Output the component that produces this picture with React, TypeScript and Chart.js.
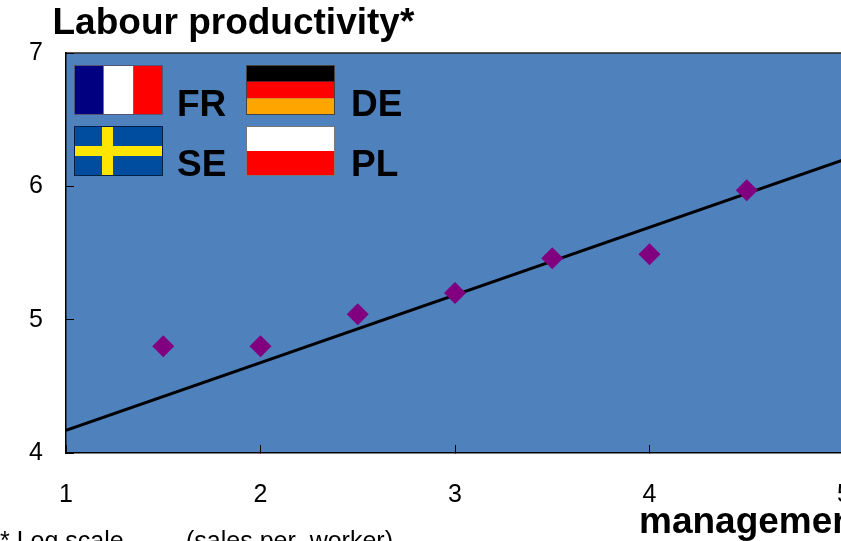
import React, { useEffect, useRef } from "react";
import { Chart, registerables } from "chart.js";

Chart.register(...registerables);

const FONT = '"Liberation Sans", Arial, sans-serif';

const scoreX = [1.5, 2, 2.5, 3, 3.5, 4, 4.5];
const productivityY = [4.8, 4.8, 5.04, 5.2, 5.46, 5.49, 5.97];
const trendX = [1, 5];
const trendY = [4.17, 6.2];
const xTicks = [1, 2, 3, 4, 5];
const yTicks = [4, 5, 6, 7];
const titleText = "Labour productivity*";
const xAxisText = "management";
const footnoteText = "* Log scale";
const unitText = "(sales per  worker)";

const flagDrawing = {
  id: "flagDrawing",
  beforeDraw(chart: any) {
    const { ctx, chartArea: a } = chart;
    ctx.save();
    ctx.fillStyle = "#4f81bd";
    ctx.fillRect(a.left, a.top, a.right - a.left, a.bottom - a.top);
    ctx.strokeStyle = "#222222";
    ctx.lineWidth = 1.5;
    ctx.beginPath();
    ctx.moveTo(a.left, a.top);
    ctx.lineTo(a.right, a.top);
    ctx.stroke();
    ctx.restore();
  },
  afterDraw(chart: any) {
    const { ctx } = chart;
    ctx.save();
    const bands = (x: number, y: number, cols: string[], vertical: boolean, edge: string, h = 50, shares?: number[]) => {
      const w = 89;
      const s = shares ?? cols.map(() => 1 / cols.length);
      let p = 0;
      cols.forEach((c, i) => {
        ctx.fillStyle = c;
        if (vertical) ctx.fillRect(x + p * w, y, s[i] * w, h);
        else ctx.fillRect(x, y + p * h, w, s[i] * h);
        p += s[i];
      });
      ctx.strokeStyle = edge;
      ctx.lineWidth = 1;
      ctx.strokeRect(x + 0.5, y + 0.5, w - 1, h - 1);
    };
    bands(74, 65, ["#000080", "#ffffff", "#ff0000"], true, "#555577");
    bands(246, 65, ["#000000", "#ff0000", "#ffa500"], false, "#444444");
    bands(74, 126, ["#004da0"], false, "#00204a");
    ctx.fillStyle = "#ffe500";
    ctx.fillRect(102, 127, 11, 48);
    ctx.fillRect(75, 146, 87, 10);
    bands(246, 126, ["#ffffff", "#ff0000"], false, "#777777");

    ctx.fillStyle = "#000000";
    ctx.textBaseline = "alphabetic";
    ctx.textAlign = "left";
    ctx.font = `bold 37px ${FONT}`;
    ctx.fillText("FR", 177, 116);
    ctx.fillText("DE", 351, 116);
    ctx.fillText("SE", 177, 176);
    ctx.fillText("PL", 351, 176);
    ctx.fillText(titleText, 52.5, 34);
    ctx.fillText(xAxisText, 639, 533);
    ctx.font = `25px ${FONT}`;
    ctx.fillText(footnoteText, 0, 549);
    ctx.fillText(unitText, 186, 549);
    ctx.restore();
  },
};

export default function App() {
  const ref = useRef<HTMLCanvasElement>(null);
  useEffect(() => {
    const chart = new Chart(ref.current!, {
      type: "scatter",
      data: {
        datasets: [
          {
            label: "Trend",
            data: trendX.map((x, i) => ({ x, y: trendY[i] })),
            showLine: true,
            borderColor: "#000000",
            borderWidth: 3,
            pointRadius: 0,
            order: 2,
          },
          {
            label: "Labour productivity",
            data: scoreX.map((x, i) => ({ x, y: productivityY[i] })),
            pointStyle: "rectRot",
            pointRadius: 11,
            backgroundColor: "#800080",
            borderColor: "#800080",
            borderWidth: 0,
            order: 1,
          },
        ],
      },
      options: {
        responsive: false,
        animation: false,
        layout: { autoPadding: false, padding: { top: 53, right: 56, left: 0, bottom: 0 } },
        plugins: { legend: { display: false }, title: { display: false }, tooltip: { enabled: false } },
        scales: {
          x: {
            type: "linear",
            min: 1,
            max: 5,
            afterBuildTicks: (s: any) => { s.ticks = xTicks.map((value) => ({ value })); },
            afterFit: (s: any) => { s.height = 127; },
            border: { color: "#000000", width: 1.5 },
            grid: { drawOnChartArea: false, tickLength: -8, tickColor: "#000000", tickWidth: 1 },
            ticks: { maxRotation: 0, padding: 35, color: "#000000", font: { family: FONT, size: 25 } },
          },
          y: {
            type: "linear",
            min: 4,
            max: 7,
            afterBuildTicks: (s: any) => { s.ticks = yTicks.map((value) => ({ value })); },
            afterFit: (s: any) => { s.width = 66; },
            border: { color: "#000000", width: 1.5 },
            grid: { drawOnChartArea: false, tickLength: -8, tickColor: "#000000", tickWidth: 1 },
            ticks: { padding: 31, color: "#000000", font: { family: FONT, size: 25 } },
          },
        },
      },
      plugins: [flagDrawing],
    } as any);
    return () => chart.destroy();
  }, []);
  return (
    <div style={{ position: "absolute", left: 0, top: 0, width: 841, height: 541, overflow: "hidden", background: "#ffffff" }}>
      <canvas ref={ref} width={900} height={580} style={{ display: "block" }} />
    </div>
  );
}
